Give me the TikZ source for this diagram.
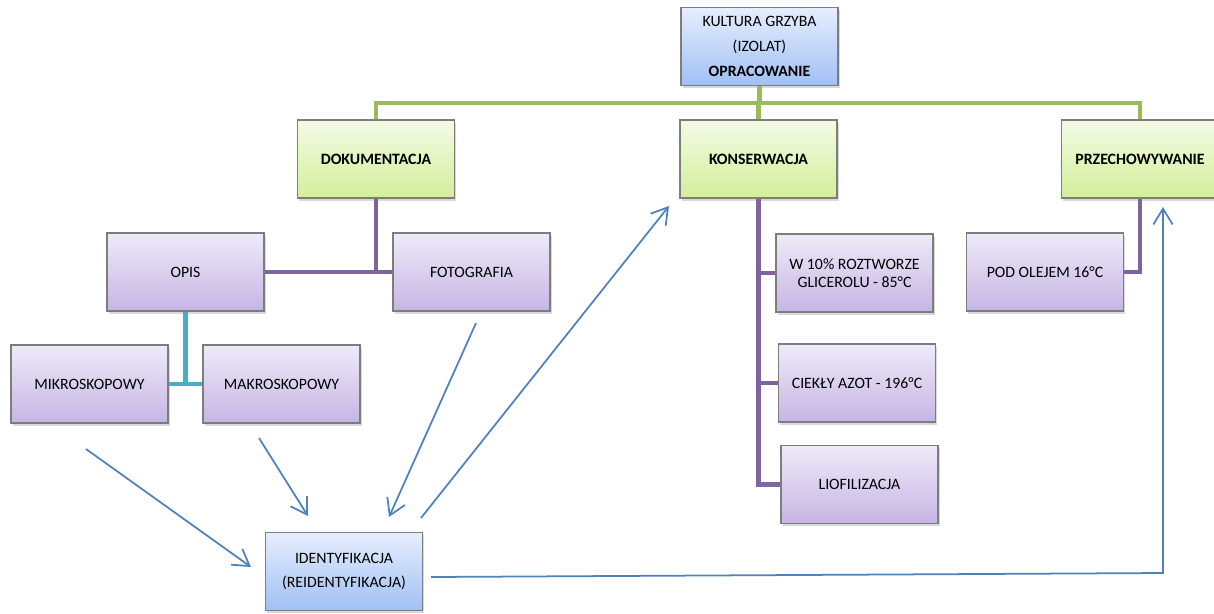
\documentclass[tikz,border=0pt]{standalone}
\usepackage{fontspec}
\setmainfont{Carlito}
\usetikzlibrary{positioning,shadows,arrows.meta}

\definecolor{boxline}{RGB}{125,125,125}
\definecolor{blueTop}{RGB}{230,238,253}
\definecolor{blueBot}{RGB}{160,192,244}
\definecolor{greenTop}{RGB}{244,251,230}
\definecolor{greenBot}{RGB}{210,239,152}
\definecolor{purpTop}{RGB}{239,234,248}
\definecolor{purpBot}{RGB}{198,181,228}
\definecolor{greenLine}{RGB}{155,187,89}
\definecolor{purpLine}{RGB}{128,100,162}
\definecolor{cyanLine}{RGB}{75,172,198}
\definecolor{arrBlue}{RGB}{79,129,189}

\tikzset{
  box/.style={draw=boxline,line width=0.6pt,minimum width=3.14cm,minimum height=1.56cm,
    align=center,inner sep=2pt,font=\fontsize{9}{10.5}\selectfont,
    drop shadow={shadow xshift=1pt,shadow yshift=-1.6pt,opacity=0.3}},
  topbox/.style={box,top color=blueTop,bottom color=blueBot},
  mainbox/.style={box,top color=greenTop,bottom color=greenBot,font=\fontsize{9}{10.5}\selectfont\bfseries},
  subbox/.style={box,top color=purpTop,bottom color=purpBot},
  bus/.style={line width=2.4pt,color=greenLine},
  branch/.style={line width=2.4pt,color=purpLine},
  twig/.style={line width=2.4pt,color=cyanLine},
  flow/.style={line width=1pt,color=arrBlue,-{Straight Barb[length=9pt,width=11pt]}}
}

\begin{document}
\begin{tikzpicture}[x=0.02cm,y=-0.02cm]
\useasboundingbox (0,0) rectangle (1214,613);
\clip (0,0) rectangle (1214,613);

% top
\node[topbox] (kult) at (759.5,46.5) {KULTURA GRZYBA\\[3.5pt](IZOLAT)\\[3.5pt]\textbf{OPRACOWANIE}};

\node[mainbox] (dok) at (376,159) {DOKUMENTACJA};
\node[mainbox] (kon) at (758.5,159) {KONSERWACJA};
\node[mainbox] (prz) at (1140,159) {PRZECHOWYWANIE};

\node[subbox] (opis) at (185.5,272) {OPIS};
\node[subbox] (foto) at (471.5,272) {FOTOGRAFIA};
\node[subbox] (mikro) at (89.5,384) {MIKROSKOPOWY};
\node[subbox] (makro) at (281.5,384) {MAKROSKOPOWY};

\node[subbox] (gli) at (854.5,273) {W 10\% ROZTWORZE\\GLICEROLU - 85°C};
\node[subbox] (azot) at (857,383) {CIEKŁY AZOT - 196°C};
\node[subbox] (lio) at (859.5,484.5) {LIOFILIZACJA};

\node[subbox] (olej) at (1045,272) {POD OLEJEM 16°C};

\node[topbox] (iden) at (344,571.5) {IDENTYFIKACJA\\[3.5pt](REIDENTYFIKACJA)};

% connectors
\coordinate (rail) at (0,103);
\draw[bus] (kult.south) -- (kult.south |- rail);
\draw[bus] (dok.north) |- (prz.north |- rail) -- (prz.north);
\draw[bus] (kon.north) -- (kon.north |- rail);

\draw[branch] (dok.south) -- (dok.south |- opis.east);
\draw[branch] (opis.east) -- (foto.west);
\draw[branch] (kon.south) |- (lio.west);
\foreach \n in {gli,azot}{
  \draw[branch] (kon.south |- \n.west) -- (\n.west);
}
\draw[branch] (prz.south) |- (olej.east);

\draw[twig] (opis.south) -- (opis.south |- mikro.east);
\draw[twig] (mikro.east) -- (makro.west);

% arrows
\coordinate (s1) at (86,449);
\coordinate (t1) at (251,567);
\coordinate (s2) at (259,438);
\coordinate (t2) at (308,516);
\coordinate (s3) at (476,323);
\coordinate (t3) at (389,517);
\coordinate (s4) at (421,518);
\coordinate (t4) at (669,206);
\coordinate (s5) at (431,577);
\coordinate (k5) at (1163,573);
\coordinate (t5) at (1163,207);

\foreach \a/\b in {s1/t1,s2/t2,s3/t3,s4/t4}{
  \draw[flow] (\a) -- (\b);
}
\draw[flow] (s5) -- (k5) -- (t5);

\end{tikzpicture}
\end{document}
